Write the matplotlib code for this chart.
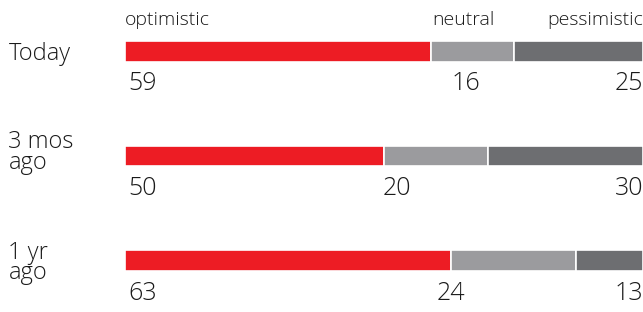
import matplotlib.pyplot as plt

plt.rcParams['font.family'] = ['Open Sans', 'DejaVu Sans']

periods = ['Today', '3 mos\nago', '1 yr\nago']
optimistic = [59, 50, 63]
neutral = [16, 20, 24]
pessimistic = [25, 30, 13]
headers = ['optimistic', 'neutral', 'pessimistic']

colors = ['#ED1C24', '#9B9B9E', '#6D6E71']
mid_x = [65.8, 52.5, 63]  # where the neutral number sits on each row
name_dy = [0.03, -0.03, 0.02]


def run():
    fig = plt.figure(figsize=(6.43, 3.12), dpi=100)
    ax = fig.add_axes([125 / 643, 0, 518 / 643, 1])
    ax.set_xlim(0, 100)
    ax.set_ylim(2.486, -0.486)
    ax.axis('off')

    ypos = range(len(periods))
    left = [0] * len(periods)
    for vals, c in zip([optimistic, neutral, pessimistic], colors):
        ax.barh(ypos, vals, left=left, height=0.2, color=c,
                edgecolor='white', linewidth=1.2)
        left = [l + v for l, v in zip(left, vals)]

    txt = dict(color='#1a1a1a', fontweight='light')
    for i, name in enumerate(periods):
        ax.text(-22.5, i + name_dy[i], name, ha='left', va='center', fontsize=17,
                linespacing=0.82, **txt)
        ax.text(0.6, i + 0.31, str(optimistic[i]), ha='left', va='center',
                fontsize=18, **txt)
        ax.text(mid_x[i], i + 0.31, str(neutral[i]), ha='center', va='center',
                fontsize=18, **txt)
        ax.text(100, i + 0.31, str(pessimistic[i]), ha='right', va='center',
                fontsize=18, **txt)

    ax.text(0, -0.3, headers[0], ha='left', va='center', fontsize=14, **txt)
    ax.text(optimistic[0] + 0.3, -0.3, headers[1], ha='left', va='center',
            fontsize=14, **txt)
    ax.text(100, -0.3, headers[2], ha='right', va='center', fontsize=14, **txt)

    fig.savefig('out.png', dpi=100)


if __name__ == "__main__":
    run()
